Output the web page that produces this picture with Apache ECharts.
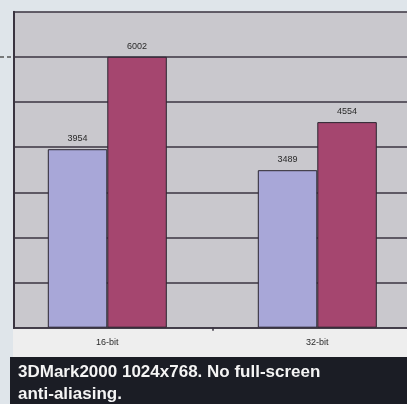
<!DOCTYPE html>
<html>
<head>
<meta charset="utf-8">
<style>
  html, body { margin: 0; padding: 0; background: #dfe5ea; }
  #chart { width: 407px; height: 404px; }
</style>
<script src="https://cdn.jsdelivr.net/npm/echarts@6/dist/echarts.min.js"></script>
</head>
<body>
<div id="chart"></div>
<script>
// Colour depth categories and 3DMark2000 scores for the two cards
const categories = ['16-bit', '32-bit'];
const cardA = [3954, 3489];
const cardB = [6002, 4554];
const caption = '3DMark2000 1024x768. No full-screen\nanti-aliasing.';

const chart = echarts.init(document.getElementById('chart'), null, { renderer: 'canvas' });

const labelFont = '"Liberation Sans Narrow", "Liberation Sans", Arial, sans-serif';
const lineColor = '#3a3440';

const barSeries = (name, data, color) => ({
  name,
  type: 'bar',
  data,
  barWidth: 59.5,
  barGap: '0%',
  itemStyle: { color, borderColor: '#2a2530', borderWidth: 1 },
  label: {
    show: true,
    position: 'top',
    distance: 6,
    fontFamily: labelFont,
    fontSize: 9,
    color: '#2a2a2a'
  }
});

chart.setOption({
  animation: false,
  backgroundColor: '#dfe5ea',
  grid: {
    left: 2.3,
    top: 11.7,
    width: 420,
    height: 316,
    outerBoundsMode: 'none',
    containLabel: false,
    show: true,
    backgroundColor: '#c9c8cd',
    borderWidth: 0
  },
  title: {
    text: caption,
    left: 18,
    top: 361,
    padding: 0,
    textStyle: {
      color: '#f4f4f4',
      fontFamily: labelFont,
      fontWeight: 'bold',
      fontSize: 17,
      lineHeight: 22
    }
  },
  xAxis: {
    type: 'category',
    data: categories,
    axisLine: { show: true, lineStyle: { color: lineColor, width: 1.5 } },
    axisTick: { show: true, length: 3, lineStyle: { color: lineColor, width: 1.5 } },
    axisLabel: { fontFamily: labelFont, fontSize: 9, color: '#2a2a2a', margin: 10 }
  },
  yAxis: {
    type: 'value',
    min: 0,
    max: 7000,
    interval: 1000,
    offset: -11.7,
    axisLine: { show: true, lineStyle: { color: lineColor, width: 2 } },
    axisTick: { show: false },
    axisLabel: { show: false },
    splitLine: { show: true, lineStyle: { color: lineColor, width: 1.5 } }
  },
  graphic: [
    // page margin to the left of the plot frame
    { type: 'rect', z: 10, shape: { x: 0, y: 0, width: 13, height: 357 }, style: { fill: '#dfe5ea' } },
    // page strip above the plot
    { type: 'rect', z: 10, shape: { x: 0, y: 0, width: 407, height: 10.5 }, style: { fill: '#dfe5ea' } },
    // white band behind the category labels
    { type: 'rect', z: -1, shape: { x: 13, y: 328, width: 394, height: 29 }, style: { fill: '#eeeeee' } },
    // dark caption box
    { type: 'rect', z: -1, shape: { x: 10, y: 357, width: 397, height: 47 }, style: { fill: '#1b1d25' } },
    // stub of a dashed rule in the margin
    { type: 'line', z: 11, shape: { x1: 0, y1: 57, x2: 12, y2: 57 }, style: { stroke: '#555', lineWidth: 1.5, lineDash: [4, 3] } }
  ],
  series: [
    barSeries('A', cardA, '#a8a7d8'),
    barSeries('B', cardB, '#a5466f')
  ]
});
</script>
</body>
</html>
